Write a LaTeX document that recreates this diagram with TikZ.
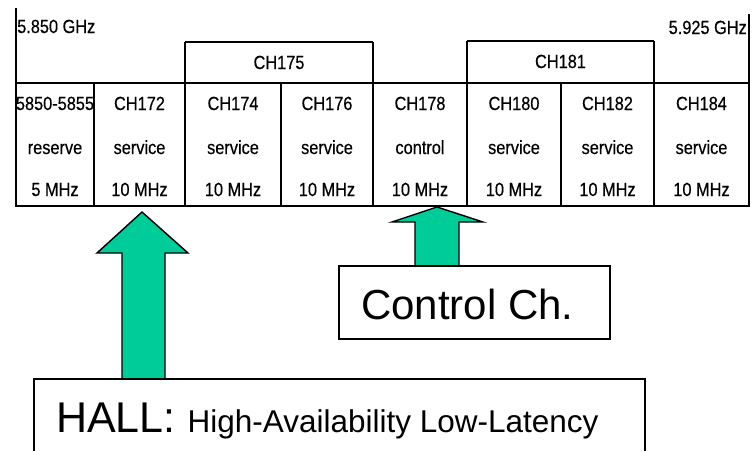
\documentclass[tikz,border=0pt]{standalone}
\usepackage{fontspec}
\setmainfont{Liberation Sans}
\newfontfamily\narrowfont[FakeStretch=0.86,FakeBold=0.4]{Liberation Sans}
\definecolor{arrowgreen}{HTML}{00CC99}
\tikzset{
  tt/.style={anchor=base, inner sep=0pt, font=\narrowfont\fontsize{19}{19}\selectfont},
  thickline/.style={line width=2.8pt},
  midline/.style={line width=2pt},
  thinline/.style={line width=1.3pt},
  blockarrow/.style={fill=arrowgreen, draw=black, line width=1.4pt, line join=miter},
  boxline/.style={draw=black, line width=1.4pt}
}
\begin{document}
\begin{tikzpicture}[x=1pt,y=-1pt]
\useasboundingbox (0,0) rectangle (753,451);
\fill[white] (0,0) rectangle (753,451);

% block arrows
\draw[blockarrow] (142,212) -- (188,253) -- (165,253) -- (165,379) -- (122,379) -- (122,253) -- (97,253) -- cycle;
\draw[blockarrow] (437,207) -- (483,222) -- (459,222) -- (459,266) -- (415,266) -- (415,222) -- (392,222) -- cycle;

% frequency edges
\draw[thinline] (16,8) -- (16,83);
\draw[thinline] (749,14) -- (749,83);
\node[tt, anchor=base west] (f1) at (17,33) {5.850 GHz};
\node[tt, anchor=base east] (f2) at (747,34) {5.925 GHz};

% grouped channel boxes
\draw[midline] (185,83) -- (185,42);
\draw[midline] (373,83) -- (373,42);
\draw[thickline] (185,42) -- (373,42);
\draw[midline] (467,83) -- (467,41);
\draw[midline] (654,83) -- (654,41);
\draw[thickline] (467,41) -- (654,41);
\node[tt] (g175) at (279,69) {CH175};
\node[tt] (g181) at (560.5,68) {CH181};

% channel grid
\foreach \xx in {94,185,281,373,467,561,654}
  \draw[midline] (\xx,83) -- (\xx,206);
\draw[midline] (16,83) -- (16,206);
\draw[midline] (749,83) -- (749,206);
\draw[thickline] (15,83) -- (750,83);
\draw[thickline] (15,206) -- (750,206);

\foreach \x/\n/\a/\b/\c in {55/1/5850-5855/reserve/5 MHz,
  139.5/2/CH172/service/10 MHz, 233/3/CH174/service/10 MHz,
  327/4/CH176/service/10 MHz, 420/5/CH178/control/10 MHz,
  514/6/CH180/service/10 MHz, 607.5/7/CH182/service/10 MHz,
  701.5/8/CH184/service/10 MHz}{
  \node[tt] (a\n) at (\x,110) {\a};
  \node[tt] (b\n) at (\x,154) {\b};
  \node[tt] (c\n) at (\x,196) {\c};
}

% Control Ch. box
\draw[boxline, fill=white] (339,266) rectangle (610,339);
\node[anchor=base, inner sep=0pt, font=\fontsize{42}{42}\selectfont] (ctrl) at (467.5,319) {Control Ch.};

% HALL box (cut off at bottom)
\fill[white] (34,379) rectangle (645,451);
\draw[boxline] (34,451) -- (34,379) -- (645,379) -- (645,451);
\node[anchor=base west, inner sep=0pt] (hall) at (56,432)
  {\fontsize{43}{43}\selectfont HALL: \fontsize{31.5}{31.5}\selectfont High-Availability Low-Latency};
\end{tikzpicture}
\end{document}
